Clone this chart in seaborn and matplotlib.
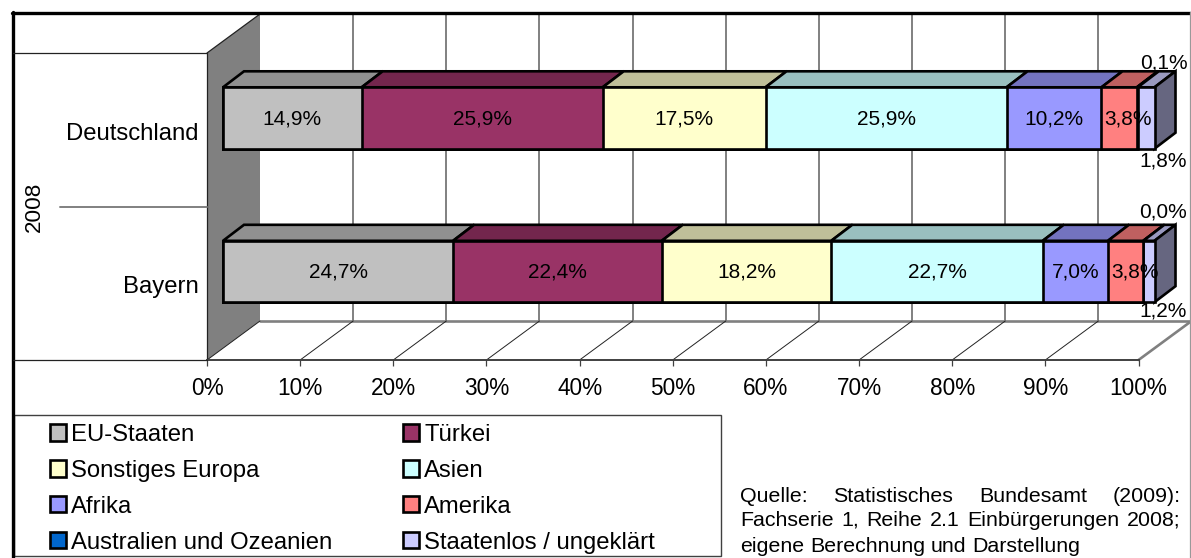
"""Gestapeltes 3D-artiges Balkendiagramm: Einbuergerungen 2008 nach Herkunft."""

import matplotlib

matplotlib.use("Agg")
import matplotlib.pyplot as plt
import pandas as pd
import seaborn as sns
from matplotlib.colors import to_rgb
from matplotlib.lines import Line2D
from matplotlib.patches import Patch, Rectangle
from matplotlib.transforms import Affine2D

regions = ["Deutschland", "Bayern"]
categories = [
    "EU-Staaten", "Türkei", "Sonstiges Europa", "Asien",
    "Afrika", "Amerika", "Australien und Ozeanien", "Staatenlos / ungeklärt",
]
eu_staaten = [14.9, 24.7]
tuerkei = [25.9, 22.4]
sonstiges_europa = [17.5, 18.2]
asien = [25.9, 22.7]
afrika = [10.2, 7.0]
amerika = [3.8, 3.8]
australien = [0.1, 0.0]
staatenlos = [1.8, 1.2]
colors = ["#C0C0C0", "#993366", "#FFFFCC", "#CCFFFF", "#9999FF", "#FF8080", "#0066CC", "#CCCCFF"]
x_ticks = list(range(0, 101, 10))
group_label = "2008"
source_lines = [
    "Quelle: Statistisches Bundesamt (2009):",
    "Fachserie 1, Reihe 2.1 Einbürgerungen 2008;",
    "eigene Berechnung und Darstellung",
]

W, H = 1191, 558
PLOT_LEFT, PLOT_RIGHT, PLOT_TOP, PLOT_BOTTOM = 207, 1138.5, 53, 360
PX_PER_X = (PLOT_RIGHT - PLOT_LEFT) / 100
PX_PER_Y = (PLOT_BOTTOM - PLOT_TOP) / 2
FONT = ["Liberation Sans", "DejaVu Sans"]


def fmt(value):
    return f"{value:.1f}%".replace(".", ",")


def shade(color, factor):
    return tuple(c * factor for c in to_rgb(color))


sns.set_theme(style="white")
plt.rcParams["font.family"] = FONT
plt.rcParams["text.color"] = "black"
plt.rcParams["xtick.labelcolor"] = "black"
plt.rcParams["ytick.labelcolor"] = "black"

values = pd.DataFrame(
    [eu_staaten, tuerkei, sonstiges_europa, asien, afrika, amerika, australien, staatenlos],
    index=categories,
    columns=regions,
).T
shares = values.div(values.sum(axis=1), axis=0) * 100
cumulative = shares.cumsum(axis=1)
cumulative.index.name = "region"
plot_data = cumulative.reset_index()

fig = plt.figure(figsize=(W / 100, H / 100), dpi=100, facecolor="white")
ax = fig.add_axes([
    PLOT_LEFT / W,
    1 - PLOT_BOTTOM / H,
    (PLOT_RIGHT - PLOT_LEFT) / W,
    (PLOT_BOTTOM - PLOT_TOP) / H,
])
ax.patch.set_alpha(0)

# image pixels, origin top left, for the frame and the boxes around the plot
PX = Affine2D().scale(1, -1).translate(0, H)

# draw longest first so the shorter stacks sit on top
bar_offset = Affine2D().translate(16 / PX_PER_X, -11.75 / PX_PER_Y) + ax.transData
BAR_WIDTH = 0.4
for name, color in reversed(list(zip(categories, colors))):
    before = set(ax.patches)
    sns.barplot(
        data=plot_data, x=name, y="region", order=regions, color=color, saturation=1,
        width=BAR_WIDTH, edgecolor="black", linewidth=1.9, ax=ax, zorder=3,
    )
    for patch in ax.patches:
        if patch not in before:
            patch.set_transform(bar_offset)
            patch.set_clip_on(False)

ax.set_xlim(0, 100)
ax.set_ylim(1.5, -0.5)
ax.set_xlabel("")
ax.set_ylabel("")

# walls and floor
WALL_X = 53 / PX_PER_X
WALL_Y = 39 / PX_PER_Y
ax.fill(
    [0, WALL_X, WALL_X, 0], [-0.5, -0.5 - WALL_Y, 1.5 - WALL_Y, 1.5],
    color="#808080", zorder=0.5, clip_on=False, linewidth=0,
)
ax.plot([0, WALL_X], [-0.5, -0.5 - WALL_Y], color="#222222", lw=0.9, clip_on=False, zorder=0.7)
ax.plot([0, 0], [-0.5, 1.5], color="#222222", lw=0.9, clip_on=False, zorder=0.7)
ax.plot([WALL_X, 100 + WALL_X], [1.5 - WALL_Y] * 2, color="#808080", lw=1.9, clip_on=False, zorder=0.6)
ax.plot([100, 100 + WALL_X], [1.5, 1.5 - WALL_Y], color="#808080", lw=1.9, clip_on=False, zorder=0.6)
for tick in x_ticks[:-1]:
    if tick > 0:
        ax.plot([tick + WALL_X] * 2, [-0.5 - WALL_Y, 1.5 - WALL_Y], color="#808080", lw=1.4, clip_on=False, zorder=0.6)
    ax.plot([tick, tick + WALL_X], [1.5, 1.5 - WALL_Y], color="#222222", lw=0.7, clip_on=False, zorder=0.7)

# top and side faces of the bars, plus the labels
DEPTH_X = 21 / PX_PER_X
DEPTH_Y = 16 / PX_PER_Y
half = BAR_WIDTH / 2
for row, region in enumerate(regions):
    start = 0
    for name, color in zip(categories, colors):
        end = cumulative.loc[region, name]
        ax.fill(
            [start, end, end + DEPTH_X, start + DEPTH_X],
            [row - half, row - half, row - half - DEPTH_Y, row - half - DEPTH_Y],
            facecolor=shade(color, 0.75), edgecolor="black", linewidth=1.9,
            transform=bar_offset, zorder=2.8, clip_on=False,
        )
        if name not in categories[-2:]:
            nudge = 9 if name == "Amerika" else 0
            ax.annotate(
                fmt(values.loc[region, name]), xy=((start + end) / 2, row),
                xycoords=bar_offset, xytext=(nudge, -1), textcoords="offset pixels",
                ha="center", va="center", fontsize=15, zorder=5,
            )
        start = end
    ax.fill(
        [100, 100 + DEPTH_X, 100 + DEPTH_X, 100],
        [row - half, row - half - DEPTH_Y, row + half - DEPTH_Y, row + half],
        facecolor=shade(colors[-1], 0.5), edgecolor="black", linewidth=1.9,
        transform=bar_offset, zorder=2.8, clip_on=False,
    )

# the two thin segments are labelled outside the bar
outside = [(categories[-2], 67, 71), (categories[-1], -31, -28)]
for name, dy_de, dy_by in outside:
    for row, (region, dy) in enumerate(zip(regions, (dy_de, dy_by))):
        ax.annotate(
            fmt(values.loc[region, name]), xy=(100, row), xycoords="data",
            xytext=(25, dy), textcoords="offset pixels",
            ha="center", va="center", fontsize=15, zorder=5,
            annotation_clip=False,
        )

sns.despine(ax=ax, left=True, top=True, right=True)
ax.spines["bottom"].set_color("#404040")
ax.spines["bottom"].set_linewidth(1.4)
ax.set_xticks(x_ticks)
ax.set_xticklabels([f"{t}%" for t in x_ticks], fontsize=16.3)
ax.tick_params(axis="x", length=4.3, width=0.9, color="#404040", pad=8, bottom=True)
ax.tick_params(axis="y", length=0, pad=6.2, labelsize=17.2)
shift_down = Affine2D().translate(0, -1.5)
for label in ax.get_yticklabels():
    label.set_transform(label.get_transform() + shift_down)

# frame and the multi-level category axis
for xs, ys, color, lw in [
    ([12, 1191], [12.5, 12.5], "black", 2.4),
    ([13, 13], [12, 558], "black", 2.4),
    ([1190, 1190], [12, 558], "#999999", 0.9),
    ([13, 207], [53, 53], "#222222", 0.9),
    ([13, 207], [360, 360], "#222222", 0.9),
    ([60, 207], [207, 207], "#808080", 1.4),
]:
    fig.add_artist(Line2D(xs, ys, color=color, lw=lw, transform=PX))
fig.text(34, 207, group_label, transform=PX, rotation=90, ha="center", va="center", fontsize=16.2)

# legend
fig.add_artist(Rectangle((14, 415), 707, 141, transform=PX, fill=False, edgecolor="#404040", linewidth=1.0))
order = [0, 2, 4, 6, 1, 3, 5, 7]
handles = [
    Patch(facecolor=colors[i], edgecolor="black", linewidth=1.9, label=categories[i])
    for i in order
]
ax.legend(
    handles=handles, ncol=2, frameon=False, loc="upper left",
    bbox_to_anchor=(50, 424), bbox_transform=PX, borderaxespad=0, borderpad=0,
    fontsize=17.2, handlelength=0.67, handleheight=0.67, handletextpad=0.22,
    columnspacing=2.95, labelspacing=0.58,
)

# source note, justified between the two margins
renderer = fig.canvas.get_renderer()
LEFT, RIGHT = 740, 1181
for line, y in zip(source_lines, (496, 520, 546)):
    words = line.split()
    texts = [fig.text(0, y, w, transform=PX, va="center", fontsize=15.4) for w in words]
    widths = [t.get_window_extent(renderer).width for t in texts]
    if line is source_lines[-1]:
        gap = 5.9
    else:
        gap = (RIGHT - LEFT - sum(widths)) / (len(words) - 1)
    x = LEFT
    for text, width in zip(texts, widths):
        text.set_x(x)
        x += width + gap

fig.savefig("out.png", dpi=100)
